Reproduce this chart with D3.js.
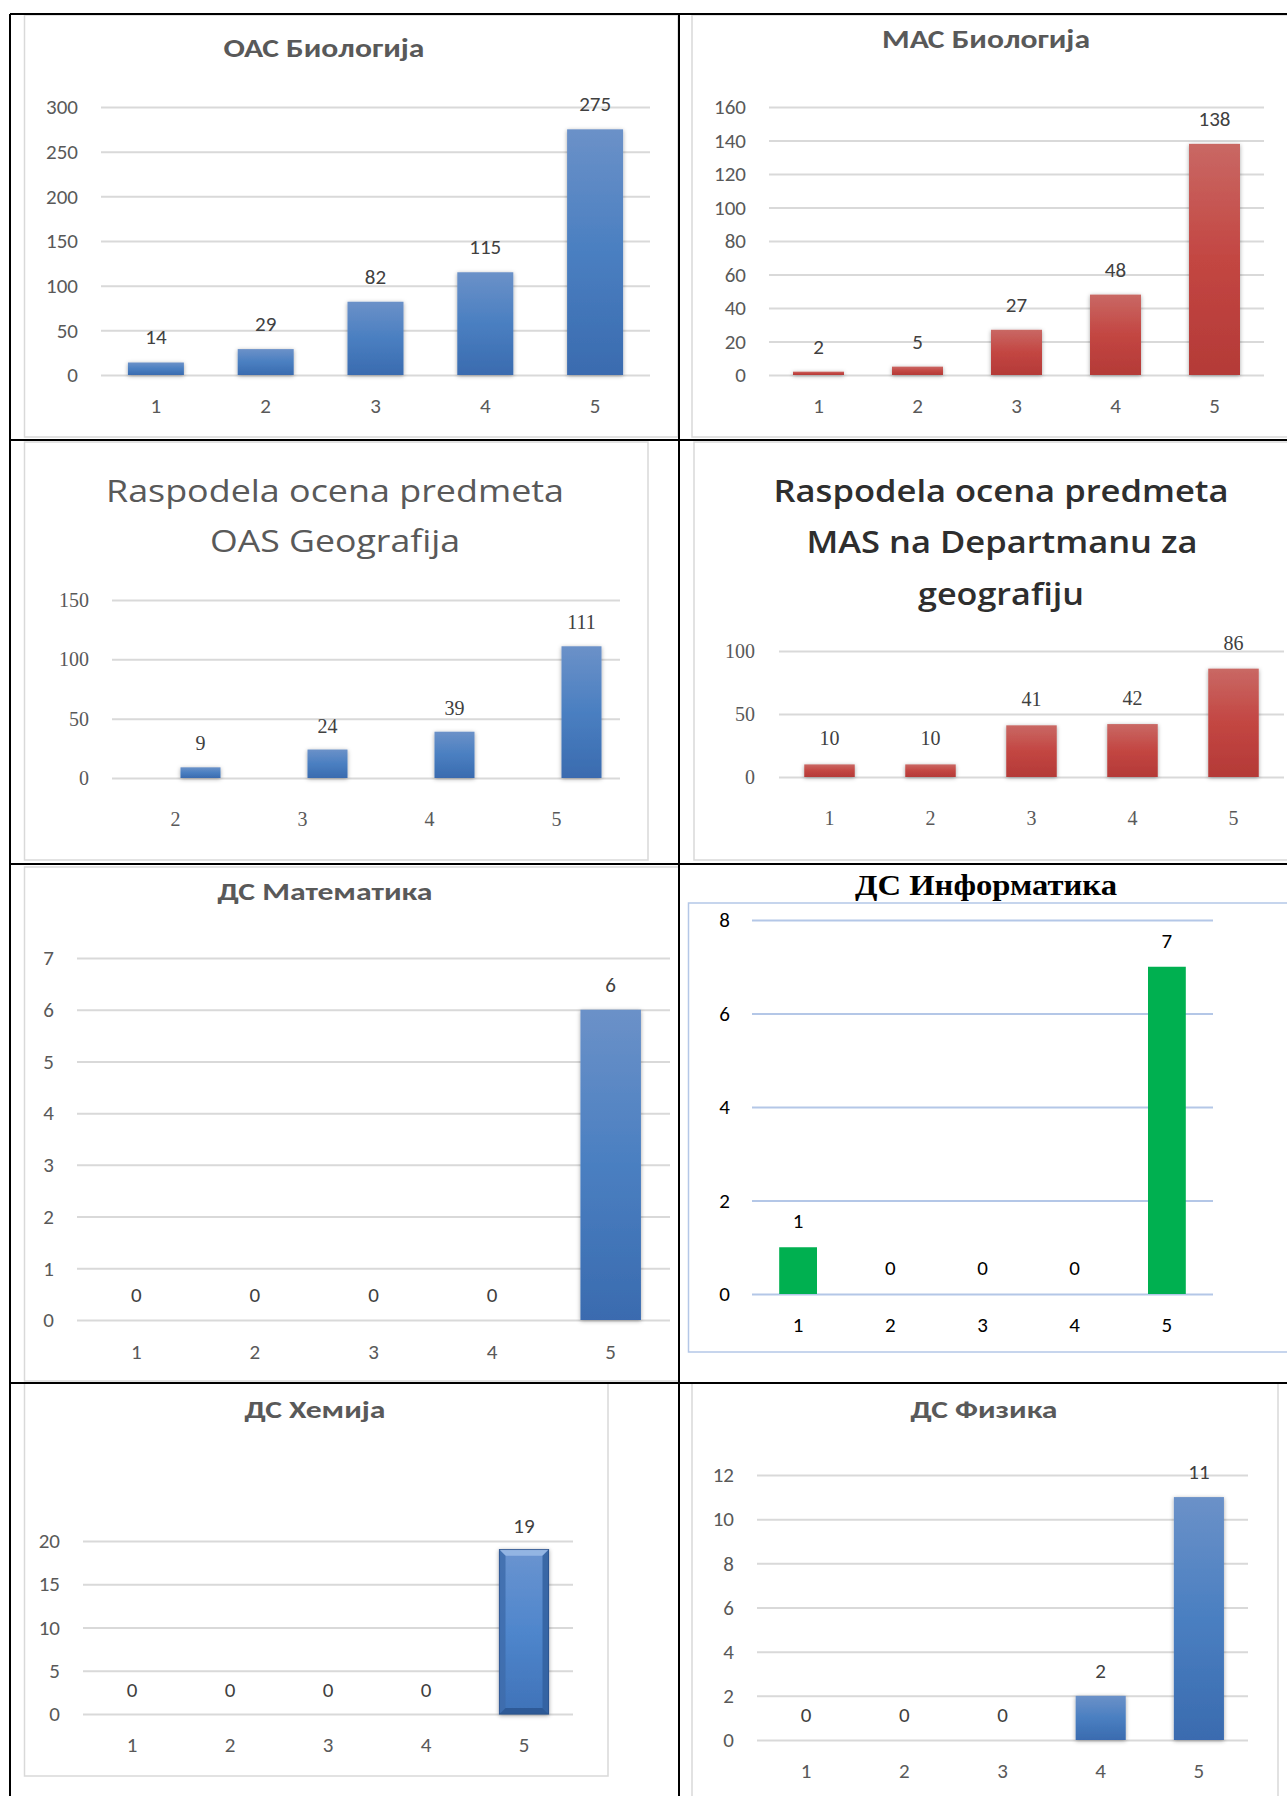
<!DOCTYPE html>
<html>
<head>
<meta charset="utf-8">
<script src="https://cdn.jsdelivr.net/npm/d3@7"></script>
<style>
  html, body { margin: 0; padding: 0; background: #fff; }
  svg { display: block; }
</style>
</head>
<body>
<div id="chart"></div>
<script>
// grades on the x axis
const grades = ['1', '2', '3', '4', '5']
const gradesGeoOas = ['2', '3', '4', '5']

// counts per grade
const oasBio = [14, 29, 82, 115, 275]
const masBio = [2, 5, 27, 48, 138]
const oasGeo = [9, 24, 39, 111]
const masGeo = [10, 10, 41, 42, 86]
const dsMat = [0, 0, 0, 0, 6]
const dsInf = [1, 0, 0, 0, 7]
const dsHem = [0, 0, 0, 0, 19]
const dsFiz = [0, 0, 0, 2, 11]

// y tick labels
const oasBioTicks = [0, 50, 100, 150, 200, 250, 300]
const masBioTicks = [0, 20, 40, 60, 80, 100, 120, 140, 160]
const oasGeoTicks = [0, 50, 100, 150]
const masGeoTicks = [0, 50, 100]
const dsMatTicks = [0, 1, 2, 3, 4, 5, 6, 7]
const dsInfTicks = [0, 2, 4, 6, 8]
const dsHemTicks = [0, 5, 10, 15, 20]
const dsFizTicks = [0, 2, 4, 6, 8, 10, 12]

const W = 1287, H = 1796
const SANS = 'Carlito, Lato, "Open Sans", sans-serif'
const WIDE = '"Open Sans", Lato, sans-serif'
const SERIF = '"Liberation Serif", "DejaVu Serif", serif'

const svg = d3.select('#chart').append('svg')
  .attr('width', W)
  .attr('height', H)

const defs = svg.append('defs')

function grad(id, stops) {
  const lg = defs.append('linearGradient')
    .attr('id', id)
    .attr('x1', 0).attr('y1', 0).attr('x2', 0).attr('y2', 1)
  stops.forEach(s => lg.append('stop').attr('offset', s[0]).attr('stop-color', s[1]))
}
grad('blue', [[0, '#6b91c8'], [0.5, '#4a7fc1'], [1, '#3a6baf']])
grad('red', [[0, '#c96864'], [0.5, '#c34642'], [1, '#b43a37']])
grad('bevel', [[0, '#6a94d0'], [0.5, '#4f86cc'], [1, '#3f72b8']])

const shadow = defs.append('filter').attr('id', 'shadow')
  .attr('x', '-30%').attr('y', '-10%').attr('width', '160%').attr('height', '120%')
shadow.append('feDropShadow')
  .attr('dx', 0).attr('dy', 1).attr('stdDeviation', 2.2)
  .attr('flood-color', '#000').attr('flood-opacity', 0.35)

const charts = [
  {
    cats: grades, values: oasBio, ticks: oasBioTicks,
    x0: 101, x1: 650, y0: 375, yTop: 107, pad: 0.49, labelX: 78, catBase: 413,
    frame: [24.5, 15, 678, 437], fill: 'url(#blue)', shadow: true,
    title: [{ t: 'ОАС Биологија', x: 324, y: 57, len: 201 }], titleFs: 26, titleWeight: 700
  },
  {
    cats: grades, values: masBio, ticks: masBioTicks,
    x0: 769, x1: 1264, y0: 375, yTop: 107, pad: 0.485, labelX: 746, catBase: 413,
    frame: [692, 15, 1292, 437], fill: 'url(#red)', shadow: true,
    title: [{ t: 'МАС Биологија', x: 986, y: 48, len: 208 }], titleFs: 26, titleWeight: 700
  },
  {
    cats: gradesGeoOas, values: oasGeo, ticks: oasGeoTicks,
    x0: 112, x1: 620, y0: 778, yTop: 600, pad: 0.685, labelX: 89, catBase: 826,
    barShift: 25,
    frame: [24.5, 442, 648, 860], fill: 'url(#blue)', shadow: true, font: SERIF, fs: 20, valOff: 17,
    title: [
      { t: 'Raspodela ocena predmeta', x: 335, y: 502, len: 458 },
      { t: 'OAS Geografija', x: 335, y: 552, len: 250 }
    ], titleFs: 31, titleWeight: 500, titleFont: WIDE
  },
  {
    cats: grades, values: masGeo, ticks: masGeoTicks,
    x0: 779, x1: 1284, y0: 777, yTop: 651, pad: 0.5, labelX: 755, catBase: 825,
    frame: [694, 442, 1292, 860], fill: 'url(#red)', shadow: true, font: SERIF, fs: 20, valOff: 19,
    title: [
      { t: 'Raspodela ocena predmeta', x: 1001, y: 502, len: 455 },
      { t: 'MAS na Departmanu za', x: 1002, y: 553, len: 391 },
      { t: 'geografiju', x: 1001, y: 605, len: 166 }
    ], titleFs: 31, titleWeight: 600, titleColor: '#2e2e2e', titleFont: WIDE
  },
  {
    cats: grades, values: dsMat, ticks: dsMatTicks,
    x0: 77, x1: 670, y0: 1320, yTop: 958, pad: 0.49, labelX: 54, catBase: 1359,
    frame: [24.5, 867, 679, 1381], fill: 'url(#blue)', shadow: true,
    title: [{ t: 'ДС Математика', x: 325, y: 900, len: 215 }], titleFs: 25, titleWeight: 700
  },
  {
    cats: grades, values: dsInf, ticks: dsInfTicks,
    x0: 752, x1: 1213, y0: 1294, yTop: 920, pad: 0.59, labelX: 730, catBase: 1332,
    frame: [688.5, 903, 1292, 1352], frameColor: '#b4c7e7', fill: '#00b050',
    textColor: '#000', gridColor: '#b4c7e7', valOff: 19,
    title: [{ t: 'ДС Информатика', x: 986, y: 895, len: 262 }],
    titleFs: 29, titleWeight: 700, titleFont: '"Liberation Serif", "Times New Roman", serif', titleColor: '#000'
  },
  {
    cats: grades, values: dsHem, ticks: dsHemTicks,
    x0: 83, x1: 573, y0: 1714, yTop: 1541, pad: 0.5, labelX: 60, catBase: 1752,
    frame: [24.5, 1383, 608, 1776], fill: 'url(#bevel)', shadow: true, bevel: true, valOff: 17,
    title: [{ t: 'ДС Хемија', x: 315, y: 1418, len: 141 }], titleFs: 25, titleWeight: 700
  },
  {
    cats: grades, values: dsFiz, ticks: dsFizTicks,
    x0: 757, x1: 1248, y0: 1740, yTop: 1475, pad: 0.49, labelX: 734, catBase: 1778,
    frame: [692, 1383, 1278, 1800], fill: 'url(#blue)', shadow: true,
    title: [{ t: 'ДС Физика', x: 984, y: 1418, len: 147 }], titleFs: 25, titleWeight: 700
  }
]

function drawChart(c) {
  const font = c.font || SANS
  const fs = c.fs || 21
  const color = c.textColor || '#595959'
  const shift = c.barShift || 0
  const g = svg.append('g')

  g.append('rect')
    .attr('x', c.frame[0]).attr('y', c.frame[1])
    .attr('width', c.frame[2] - c.frame[0]).attr('height', c.frame[3] - c.frame[1])
    .attr('fill', '#fff')
    .attr('stroke', c.frameColor || '#d9d9d9')
    .attr('stroke-width', 1.5)

  g.selectAll('text.title')
    .data(c.title)
    .enter().append('text')
      .attr('class', 'title')
      .attr('x', d => d.x)
      .attr('y', d => d.y)
      .attr('text-anchor', 'middle')
      .attr('textLength', d => d.len)
      .attr('lengthAdjust', 'spacingAndGlyphs')
      .style('font-family', c.titleFont || SANS)
      .style('font-size', c.titleFs + 'px')
      .style('font-weight', c.titleWeight)
      .style('fill', c.titleColor || '#595959')
      .text(d => d.t)

  const y = d3.scaleLinear()
    .domain([0, c.ticks[c.ticks.length - 1]])
    .range([c.y0, c.yTop])

  const x = d3.scaleBand()
    .domain(c.cats)
    .range([c.x0, c.x1])
    .paddingInner(c.pad)
    .paddingOuter(c.pad / 2)

  // gridlines + y labels
  const yAxis = g.append('g')
    .attr('transform', 'translate(' + c.x0 + ',0)')
    .call(d3.axisLeft(y)
      .tickValues(c.ticks)
      .tickSize(-(c.x1 - c.x0))
      .tickPadding(c.x0 - c.labelX)
      .tickFormat(d3.format('d')))
  yAxis.select('.domain').remove()
  yAxis.selectAll('line')
    .attr('stroke', c.gridColor || '#d9d9d9')
    .attr('stroke-width', 2)
  yAxis.selectAll('text')
    .style('font-family', font)
    .style('font-size', fs + 'px')
    .style('fill', color)

  // category labels
  const xAxis = g.append('g')
    .attr('transform', 'translate(0,' + c.y0 + ')')
    .call(d3.axisBottom(x)
      .tickSize(0)
      .tickPadding(c.catBase - c.y0 - 0.71 * fs))
  xAxis.select('.domain').remove()
  xAxis.selectAll('text')
    .style('font-family', font)
    .style('font-size', fs + 'px')
    .style('fill', color)

  const rows = c.cats.map((k, i) => ({ k: k, v: c.values[i] }))
  const bx = d => x(d.k) + shift

  const bars = g.append('g')
  if (c.shadow) bars.attr('filter', 'url(#shadow)')
  bars.selectAll('rect')
    .data(rows.filter(d => d.v > 0))
    .enter().append('rect')
      .attr('x', bx)
      .attr('y', d => y(d.v))
      .attr('width', x.bandwidth())
      .attr('height', d => y(0) - y(d.v))
      .attr('fill', c.fill)
      .attr('stroke', c.bevel ? '#2a5088' : 'none')
      .attr('stroke-width', c.bevel ? 1.2 : 0)

  if (c.bevel) {
    const b = 6
    const facets = []
    rows.filter(d => d.v > 0).forEach(d => {
      const x0 = bx(d), x1 = x0 + x.bandwidth(), t = y(d.v), bt = y(0)
      facets.push({ p: [[x0, t], [x1, t], [x1 - b, t + b], [x0 + b, t + b]], f: '#9bbbe6' })
      facets.push({ p: [[x0, t], [x0 + b, t + b], [x0 + b, bt - b], [x0, bt]], f: '#3e6cab' })
      facets.push({ p: [[x1, t], [x1 - b, t + b], [x1 - b, bt - b], [x1, bt]], f: '#33609f' })
      facets.push({ p: [[x0, bt], [x0 + b, bt - b], [x1 - b, bt - b], [x1, bt]], f: '#2c5690' })
    })
    g.append('g').selectAll('polygon')
      .data(facets)
      .enter().append('polygon')
        .attr('points', d => d.p.map(q => q.join(',')).join(' '))
        .attr('fill', d => d.f)
        .attr('opacity', 0.85)
  }

  g.append('g').selectAll('text')
    .data(rows)
    .enter().append('text')
      .attr('x', d => bx(d) + x.bandwidth() / 2)
      .attr('y', d => y(d.v) - (c.valOff || 18))
      .attr('text-anchor', 'middle')
      .style('font-family', font)
      .style('font-size', fs + 'px')
      .style('fill', c.textColor || '#404040')
      .text(d => d.v)
}

charts.forEach(drawChart)

// table grid around the charts
const tableLines = [
  [10, 14, W, 14],
  [10, 440, W, 440],
  [10, 864, W, 864],
  [10, 1383, W, 1383],
  [10, 14, 10, H],
  [679, 14, 679, H]
]
svg.append('g').selectAll('line')
  .data(tableLines)
  .enter().append('line')
    .attr('x1', d => d[0]).attr('y1', d => d[1])
    .attr('x2', d => d[2]).attr('y2', d => d[3])
    .attr('stroke', '#000')
    .attr('stroke-width', 2)
</script>
</body>
</html>
